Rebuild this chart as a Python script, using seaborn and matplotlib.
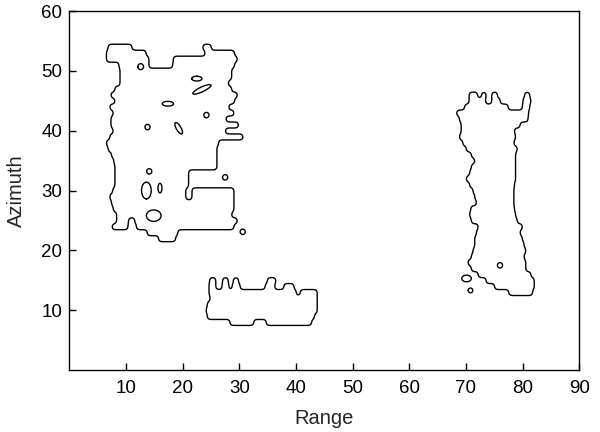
import numpy as np
import matplotlib
matplotlib.use("Agg")
import matplotlib.pyplot as plt
import seaborn as sns

# ---------------- data ----------------
range_ticks = [10, 20, 30, 40, 50, 60, 70, 80, 90]
azimuth_ticks = [10, 20, 30, 40, 50, 60]

# Thresholded echo regions: for each azimuth row, the range spans above threshold
west_rows = [54, 53, 52, 51, 50, 49, 48, 47, 46, 45, 44, 43, 42, 41, 40, 39, 38,
             37, 36, 35, 34, 33, 32, 31, 30, 29, 28, 27, 26, 25, 24, 23, 22]
west_spans = [
    [(6.9, 11.1), (23.6, 25.0)],
    [(6.6, 13.6), (24.0, 29.2)],
    [(6.6, 14.1), (18.4, 29.6)],
    [(8.8, 14.1), (18.3, 29.2)],
    [(9.0, 28.7)],
    [(9.0, 28.7)],
    [(9.0, 28.0)],
    [(8.1, 28.7)],
    [(7.4, 29.6)],
    [(8.1, 29.2)],
    [(7.2, 28.1)],
    [(7.8, 29.0)],
    [(7.4, 27.7)],
    [(7.4, 29.8)],
    [(7.8, 27.5)],
    [(7.2, 30.7)],
    [(6.6, 26.3)],
    [(6.9, 26.0)],
    [(7.5, 26.0)],
    [(7.9, 26.0)],
    [(8.1, 26.0)],
    [(8.1, 21.0)],
    [(8.1, 21.0)],
    [(8.1, 21.0)],
    [(7.7, 20.5), (21.7, 29.0)],
    [(7.2, 20.5), (21.7, 29.0)],
    [(7.5, 29.0)],
    [(7.8, 29.0)],
    [(8.4, 28.7)],
    [(8.4, 10.4), (11.6, 29.6)],
    [(7.6, 10.3), (11.9, 29.0)],
    [(13.8, 19.2)],
    [(15.8, 18.7)],
]

south_rows = [15, 14, 13, 12, 11, 10, 9, 8]
south_spans = [
    [(24.8, 25.9), (27.1, 28.0), (29.0, 29.9), (35.0, 36.4)],
    [(24.7, 25.9), (27.0, 28.1), (28.8, 30.1), (34.6, 36.3), (37.9, 39.6)],
    [(24.7, 40.0), (40.8, 43.7)],
    [(24.9, 43.7)],
    [(24.4, 43.7)],
    [(24.2, 43.7)],
    [(24.4, 43.2)],
    [(28.4, 32.5), (34.8, 42.8)],
]

east_rows = [46, 45, 44, 43, 42, 41, 40, 39, 38, 37, 36, 35, 34, 33, 32, 31, 30,
             29, 28, 27, 26, 25, 24, 23, 22, 21, 20, 19, 18, 17, 16, 15, 14, 13]
east_spans = [
    [(70.6, 72.0), (72.8, 73.6), (74.6, 75.5), (80.4, 81.2)],
    [(70.6, 73.4), (74.6, 76.1), (80.1, 81.4)],
    [(69.8, 77.4), (80.0, 81.3)],
    [(68.4, 81.1)],
    [(68.9, 80.9)],
    [(69.2, 79.6)],
    [(69.2, 78.6)],
    [(68.9, 78.7)],
    [(69.5, 78.4)],
    [(70.1, 79.0)],
    [(71.0, 78.7)],
    [(71.6, 78.7)],
    [(71.0, 78.7)],
    [(70.7, 78.7)],
    [(70.1, 78.7)],
    [(70.7, 78.6)],
    [(71.3, 78.4)],
    [(71.6, 78.4)],
    [(71.9, 78.4)],
    [(70.9, 78.6)],
    [(70.7, 78.7)],
    [(71.0, 79.0)],
    [(72.2, 79.9)],
    [(71.9, 79.6)],
    [(71.6, 79.9)],
    [(71.6, 80.2)],
    [(71.3, 80.5)],
    [(71.0, 80.2)],
    [(70.4, 80.5)],
    [(71.0, 80.5)],
    [(72.2, 81.4)],
    [(73.6, 82.0)],
    [(75.1, 82.0)],
    [(77.6, 81.7)],
]

# small closed contours: (range, azimuth, half-width, half-height, tilt deg)
hole_spots = [
    (12.6, 50.7, 0.5, 0.5, 0),
    (22.5, 48.7, 0.9, 0.4, 0),
    (23.4, 46.9, 1.75, 0.4, 24),
    (17.4, 44.5, 1.0, 0.4, 0),
    (24.2, 42.6, 0.45, 0.45, 0),
    (13.8, 40.6, 0.45, 0.45, 0),
    (19.3, 40.4, 1.1, 0.4, -58),
    (14.1, 33.2, 0.45, 0.45, 0),
    (13.6, 30.0, 0.85, 1.4, 0),
    (16.0, 30.4, 0.35, 0.8, 0),
    (14.9, 25.8, 1.3, 0.95, 0),
    (76.0, 17.5, 0.45, 0.45, 0),
]
island_spots = [
    (27.5, 32.2, 0.45, 0.45, 0),
    (30.6, 23.1, 0.45, 0.45, 0),
    (70.1, 15.3, 0.85, 0.55, 0),
    (70.8, 13.3, 0.4, 0.4, 0),
]

# ---------------- build field ----------------
step = 0.1
xs = np.arange(0, 90 + step / 2, step)
ys = np.arange(0, 60 + step / 2, step)
X, Y = np.meshgrid(xs, ys)
mask = np.zeros_like(X)
for rows, spans in ((west_rows, west_spans), (south_rows, south_spans),
                    (east_rows, east_spans)):
    for r, segs in zip(rows, spans):
        band = (Y >= r - 0.5) & (Y < r + 0.5)
        for a, b in segs:
            mask[band & (X >= a) & (X <= b)] = 1.0

sig = 0.3 / step
k = np.arange(-int(3 * sig), int(3 * sig) + 1)
ker = np.exp(-0.5 * (k / sig) ** 2)
ker /= ker.sum()
field = np.apply_along_axis(lambda v: np.convolve(v, ker, mode="same"), 1, mask)
field = np.apply_along_axis(lambda v: np.convolve(v, ker, mode="same"), 0, field)


def spot(cx, cy, rx, ry, ang):
    t = np.deg2rad(ang)
    dx, dy = X - cx, Y - cy
    u = (dx * np.cos(t) + dy * np.sin(t)) / rx
    v = (-dx * np.sin(t) + dy * np.cos(t)) / ry
    return 2.0 ** (-(u * u + v * v))


for h in hole_spots:
    field = np.minimum(field, 1 - spot(*h))
for s in island_spots:
    field = np.maximum(field, spot(*s))

# ---------------- plot ----------------
sns.set_style("ticks")
plt.rcParams["font.family"] = ["Liberation Sans", "DejaVu Sans"]

fig = plt.figure(figsize=(6, 4.32), dpi=100)
ax = fig.add_axes([0.1155, 0.1435, 0.85, 0.831])
ax.contour(xs, ys, field, levels=[0.5], colors="black", linewidths=1.0)

ax.set_xlim(0, 90)
ax.set_ylim(0, 60)
ax.set_xticks(range_ticks)
ax.set_yticks(azimuth_ticks)
ax.tick_params(direction="in", length=5, width=1, labelsize=13.5, colors="black",
               top=False, right=False)
ax.tick_params(axis="x", pad=7)
ax.tick_params(axis="y", pad=5)
for sp in ax.spines.values():
    sp.set_visible(True)
    sp.set_color("black")
    sp.set_linewidth(1.0)
ax.set_xlabel("Range", fontsize=14.5, labelpad=9)
ax.set_ylabel("Azimuth", fontsize=14.5, labelpad=11)

fig.savefig("out.png", dpi=100)
